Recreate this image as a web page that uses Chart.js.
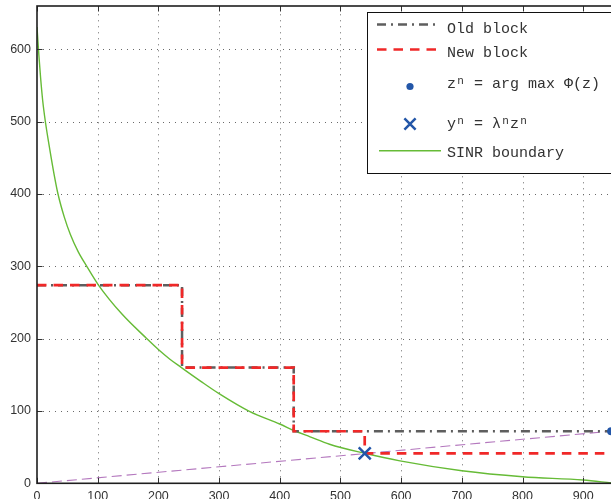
<!DOCTYPE html>
<html>
<head>
<meta charset="utf-8">
<script src="https://cdn.jsdelivr.net/npm/chart.js@4/dist/chart.umd.min.js"></script>
<style>
  html, body { margin: 0; padding: 0; overflow: hidden; background: #fff; }
  #wrap { width: 640px; height: 525px; margin-top: -5px; }
</style>
</head>
<body>
<div id="wrap"><canvas id="c" width="640" height="525"></canvas></div>
<script>
// ---- data ----
const xTicks = [0, 100, 200, 300, 400, 500, 600, 700, 800, 900];
const yTicks = [0, 100, 200, 300, 400, 500, 600];
const xMax = 960;
const yMax = 660;

const oldBlockX = [0, 239, 239, 423, 423, 946];
const oldBlockY = [274, 274, 160, 160, 72, 72];

const newBlockX = [0, 239, 239, 423, 423, 540, 540, 946];
const newBlockY = [274, 274, 160, 160, 72, 72, 41.5, 41.5];

const sinrX = [0, 3, 6, 9.4, 13.7, 21.4, 28, 34.6, 45, 55, 68, 82, 101, 140, 181, 200, 219, 238, 270, 300, 350, 400, 426, 450, 482, 540, 598, 700, 800, 900, 946];
const sinrY = [631, 593, 560, 529, 500.6, 460, 428, 400, 368, 344, 320, 300, 274.5, 234, 200, 185, 171.6, 160, 141, 124, 99.5, 82, 72, 64.3, 54, 41.5, 31, 17.4, 9.1, 4.5, 0.5];

const rayX = [0, 946];
const rayY = [0, 72];

const zPoint = { x: 946, y: 72 };
const yPoint = { x: 540, y: 41.5 };

// legend labels: [text, isSuperscript] segments
const legendLabels = [
  [['Old block', 0]],
  [['New block', 0]],
  [['z', 0], ['n', 1], [' = arg max \u03A6(z)', 0]],
  [['y', 0], ['n', 1], [' = \u03BB', 0], ['n', 1], ['z', 0], ['n', 1]],
  [['SINR boundary', 0]]
];

// ---- helpers ----
const pts = (xs, ys) => xs.map((x, i) => ({ x: x, y: ys[i] }));

const BLUE = '#2356a8';
const RED = '#f02828';
const GRAY = '#5e5e5e';
const GREEN = '#66bb36';
const PURPLE = '#b478be';
const OFF = 5; // canvas is shifted up by this many px

const framePlugin = {
  id: 'frame',
  beforeDatasetsDraw(chart) {
    const { ctx, chartArea: a, scales: { x, y } } = chart;
    ctx.save();
    ctx.strokeStyle = '#6a6a6a';
    ctx.lineWidth = 1;
    ctx.setLineDash([1, 5]);
    xTicks.forEach(v => {
      if (v === 0) return;
      const px = Math.round(x.getPixelForValue(v)) + 0.5;
      ctx.beginPath(); ctx.moveTo(px, a.bottom); ctx.lineTo(px, a.top); ctx.stroke();
    });
    yTicks.forEach(v => {
      if (v === 0) return;
      const py = Math.round(y.getPixelForValue(v)) + 0.5;
      ctx.beginPath(); ctx.moveTo(a.left, py); ctx.lineTo(a.right, py); ctx.stroke();
    });
    ctx.restore();
  },
  afterDatasetsDraw(chart) {
    const { ctx, chartArea: a, scales: { x, y } } = chart;
    ctx.save();
    ctx.setLineDash([]);
    // ticks (inward)
    ctx.strokeStyle = '#333';
    ctx.lineWidth = 1;
    const tl = 5.5;
    xTicks.forEach(v => {
      const px = Math.round(x.getPixelForValue(v)) + 0.5;
      ctx.beginPath(); ctx.moveTo(px, a.bottom); ctx.lineTo(px, a.bottom - tl); ctx.stroke();
      ctx.beginPath(); ctx.moveTo(px, a.top); ctx.lineTo(px, a.top + tl); ctx.stroke();
    });
    yTicks.forEach(v => {
      const py = Math.round(y.getPixelForValue(v)) + 0.5;
      ctx.beginPath(); ctx.moveTo(a.left, py); ctx.lineTo(a.left + tl, py); ctx.stroke();
      ctx.beginPath(); ctx.moveTo(a.right, py); ctx.lineTo(a.right - tl, py); ctx.stroke();
    });
    // box
    ctx.strokeStyle = '#1e1e1e';
    ctx.lineWidth = 1.6;
    ctx.strokeRect(a.left, a.top, a.right - a.left, a.bottom - a.top);
    ctx.restore();

    // legend (screen coords + OFF)
    ctx.save();
    ctx.translate(0, OFF);
    const L = 367.5, T = 12.5, R = 660, B = 173.5;
    ctx.fillStyle = '#fff';
    ctx.fillRect(L, T, R - L, B - T);
    ctx.strokeStyle = '#111';
    ctx.lineWidth = 1;
    ctx.strokeRect(L, T, R - L, B - T);

    const drawLine = (y0, x0, x1, color, w, dash) => {
      ctx.save();
      ctx.strokeStyle = color; ctx.lineWidth = w; ctx.setLineDash(dash); ctx.lineCap = 'butt';
      ctx.beginPath(); ctx.moveTo(x0, y0); ctx.lineTo(x1, y0); ctx.stroke();
      ctx.restore();
    };
    drawLine(24.5, 377, 438, GRAY, 2.5, [9, 5, 2, 5]);
    drawLine(49.5, 377, 438, RED, 2.7, [9.5, 7]);
    drawLine(150.7, 379, 441, GREEN, 1.4, []);
    // dot
    ctx.fillStyle = BLUE;
    ctx.beginPath(); ctx.arc(410, 86.5, 3.6, 0, Math.PI * 2); ctx.fill();
    // cross
    ctx.strokeStyle = BLUE; ctx.lineWidth = 2.5; ctx.setLineDash([]);
    const cx = 410, cy = 124, h = 5.6;
    ctx.beginPath(); ctx.moveTo(cx - h, cy - h); ctx.lineTo(cx + h, cy + h);
    ctx.moveTo(cx - h, cy + h); ctx.lineTo(cx + h, cy - h); ctx.stroke();

    ctx.fillStyle = '#333';
    ctx.textBaseline = 'alphabetic';
    ctx.textAlign = 'left';
    const mainFont = '15px "Liberation Mono", "DejaVu Sans Mono", monospace';
    const supFont = '11px "Liberation Mono", "DejaVu Sans Mono", monospace';
    const cell = 9;
    const ys = [33, 57, 88, 128, 157];
    legendLabels.forEach((segs, i) => {
      let xp = 447;
      segs.forEach(([t, sup]) => {
        if (sup) {
          ctx.font = supFont;
          ctx.fillText(t, xp + 1.2, ys[i] - 4.5);
          xp += cell * t.length;
        } else {
          ctx.font = mainFont;
          ctx.fillText(t, xp, ys[i]);
          xp += ctx.measureText(t).width;
        }
      });
    });
    ctx.restore();
  }
};

const tickFont = { family: '"Liberation Sans", Arial, sans-serif', size: 12.5 };
const noPad = s => { s.paddingTop = 0; s.paddingBottom = 0; s.paddingLeft = 0; s.paddingRight = 0; };

new Chart(document.getElementById('c'), {
  type: 'scatter',
  data: {
    datasets: [
      { label: 'z', data: [zPoint], showLine: false, pointStyle: 'circle', pointRadius: 4, backgroundColor: BLUE, borderColor: BLUE, borderWidth: 0 },
      { label: 'y', data: [yPoint], showLine: false, pointStyle: 'crossRot', pointRadius: 8.5, borderColor: BLUE, borderWidth: 2.5 },
      { label: 'New block', data: pts(newBlockX, newBlockY), showLine: true, borderColor: RED, borderWidth: 2.7, borderDash: [9.5, 7], pointRadius: 0, tension: 0, borderCapStyle: 'butt' },
      { label: 'Old block', data: pts(oldBlockX, oldBlockY), showLine: true, borderColor: GRAY, borderWidth: 2.5, borderDash: [9, 5, 2, 5], pointRadius: 0, tension: 0, borderCapStyle: 'butt' },
      { label: 'ray', data: pts(rayX, rayY), showLine: true, borderColor: PURPLE, borderWidth: 1.1, borderDash: [10, 5], pointRadius: 0, tension: 0 },
      { label: 'SINR boundary', data: pts(sinrX, sinrY), showLine: true, borderColor: GREEN, borderWidth: 1.4, pointRadius: 0, cubicInterpolationMode: 'monotone' }
    ]
  },
  options: {
    responsive: false,
    animation: false,
    events: [],
    layout: { padding: { top: 0, left: 0, right: 20.4, bottom: 0 } },
    plugins: { legend: { display: false }, tooltip: { enabled: false } },
    scales: {
      x: {
        type: 'linear', min: 0, max: xMax,
        afterBuildTicks: s => { s.ticks = xTicks.map(v => ({ value: v })); },
        afterFit: s => { s.height = 525 - (483.3 + OFF); noPad(s); },
        grid: { display: false, drawTicks: false },
        border: { display: false },
        ticks: { padding: 6, color: '#333', font: tickFont, maxRotation: 0, autoSkip: false }
      },
      y: {
        type: 'linear', min: 0, max: yMax,
        afterBuildTicks: s => { s.ticks = yTicks.map(v => ({ value: v })); },
        afterFit: s => { s.width = 37; noPad(s); },
        grid: { display: false, drawTicks: false },
        border: { display: false },
        ticks: { padding: 6, color: '#333', font: tickFont, autoSkip: false }
      }
    }
  },
  plugins: [framePlugin]
});
</script>
</body>
</html>
